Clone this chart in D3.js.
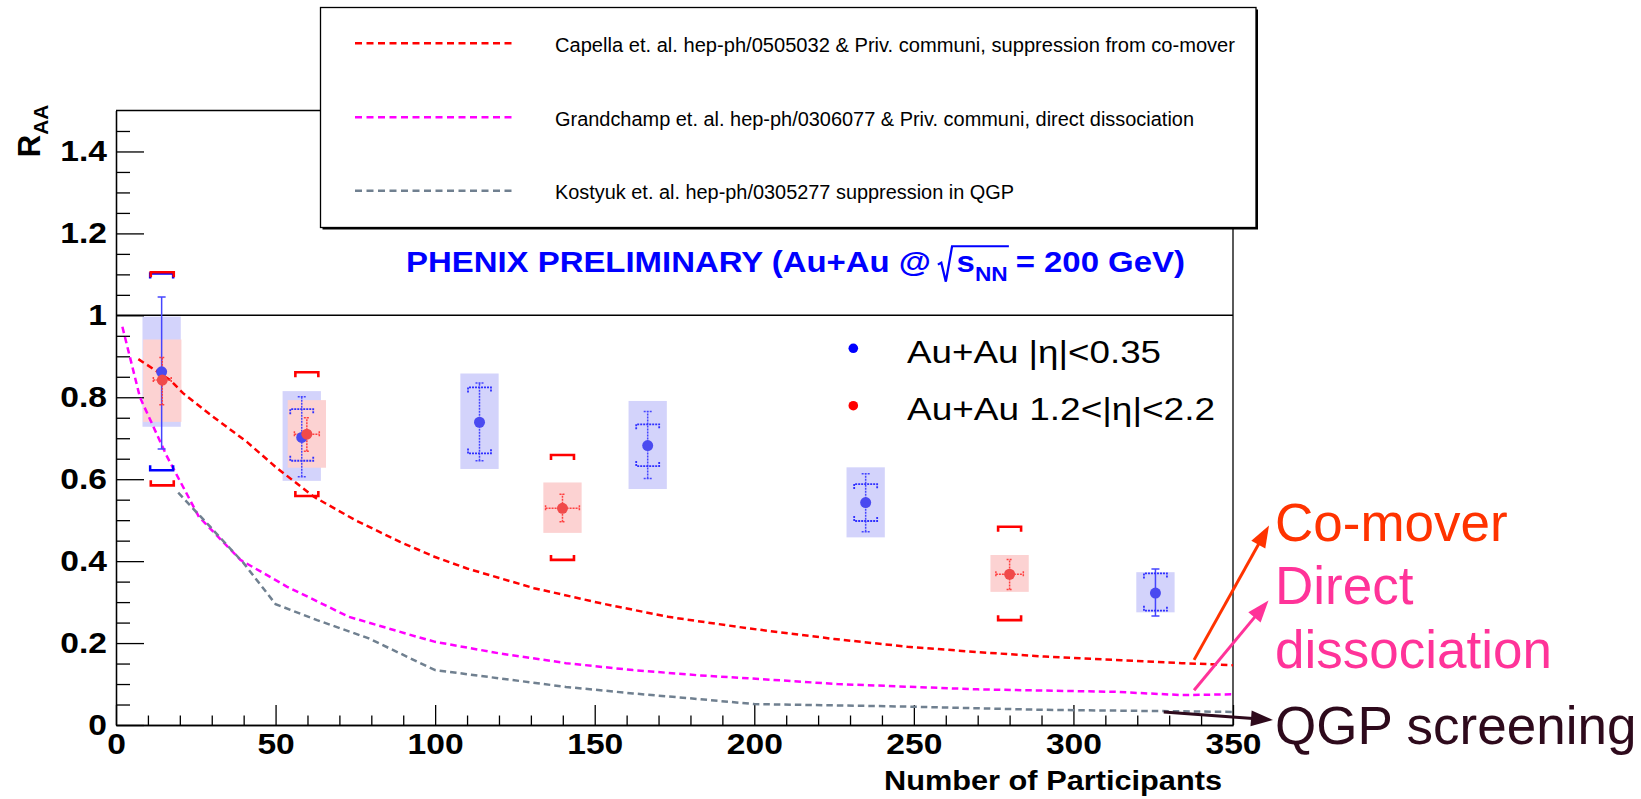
<!DOCTYPE html>
<html><head><meta charset="utf-8">
<script src="https://cdn.jsdelivr.net/npm/d3@7"></script>
<style>
html,body{margin:0;padding:0;background:#fff;}
svg{display:block;font-family:"Liberation Sans",Arial,Helvetica,sans-serif;}
</style></head><body>
<svg id="chart" width="1641" height="799"></svg>
<script>
// ---------------- DATA ----------------
const xTickValues = [0, 50, 100, 150, 200, 250, 300, 350];
const xTickLabels = ["0", "50", "100", "150", "200", "250", "300", "350"];
const yTickValues = [0, 0.2, 0.4, 0.6, 0.8, 1, 1.2, 1.4];
const yTickLabels = ["0", "0.2", "0.4", "0.6", "0.8", "1", "1.2", "1.4"];

// Au+Au |eta|<0.35
const midNpart  = [14.3, 58.2, 113.9, 166.6, 234.9, 325.7];
const midRaa    = [0.862, 0.702, 0.739, 0.682, 0.543, 0.322];
const midStatLo = [0.674, 0.606, 0.645, 0.602, 0.472, 0.266];
const midStatHi = [1.045, 0.801, 0.835, 0.765, 0.613, 0.381];
const midSysLo  = [0.622, 0.645, 0.663, 0.632, 0.498, 0.279];
const midSysHi  = [1.102, 0.771, 0.824, 0.734, 0.588, 0.370];
const midBoxLo  = [0.728, 0.596, 0.625, 0.576, 0.458, 0.275];
const midBoxHi  = [0.997, 0.815, 0.858, 0.791, 0.629, 0.373];

// Au+Au 1.2<|eta|<2.2
const fwdNpart    = [14.5, 59.8, 139.9, 280.0];
const fwdNpartErr = [2.8, 3.9, 5.3, 4.3];
const fwdRaa      = [0.842, 0.710, 0.529, 0.368];
const fwdStatLo   = [0.782, 0.668, 0.496, 0.331];
const fwdStatHi   = [0.897, 0.750, 0.563, 0.404];
const fwdSysLo    = [0.585, 0.559, 0.403, 0.256];
const fwdSysHi    = [1.105, 0.861, 0.659, 0.484];
const fwdBoxLo    = [0.740, 0.628, 0.469, 0.325];
const fwdBoxHi    = [0.941, 0.793, 0.592, 0.415];

// Theory curves
const capellaNpart = [7, 17, 21, 30, 41, 50, 62, 75, 89, 100, 110, 131, 152, 173, 198, 225, 248, 270, 291, 315, 334, 350];
const capellaRaa   = [0.893, 0.842, 0.81, 0.755, 0.691, 0.63, 0.557, 0.50, 0.447, 0.41, 0.382, 0.334, 0.297, 0.264, 0.236, 0.21, 0.191, 0.178, 0.167, 0.158, 0.151, 0.146];
const grandNpart = [2, 7.5, 16, 26, 39, 53.5, 73, 94, 100, 120, 141, 162, 183, 198, 226, 270, 313, 334, 350];
const grandRaa   = [0.972, 0.80, 0.655, 0.508, 0.403, 0.338, 0.264, 0.216, 0.203, 0.175, 0.151, 0.134, 0.121, 0.114, 0.100, 0.087, 0.081, 0.073, 0.075];
const kostNpart = [19.5, 29.5, 40, 50, 63, 79, 100, 120, 141, 162, 183, 200, 248, 291, 350];
const kostRaa   = [0.567, 0.484, 0.395, 0.295, 0.256, 0.212, 0.134, 0.114, 0.093, 0.077, 0.063, 0.051, 0.045, 0.037, 0.032];

const theoryLabels = [
  "Capella et. al. hep-ph/0505032 & Priv. communi,  suppression from co-mover",
  "Grandchamp et. al. hep-ph/0306077 & Priv. communi, direct dissociation",
  "Kostyuk et. al. hep-ph/0305277 suppression in QGP"
];
const seriesLabels = ["Au+Au |\u03b7|<0.35", "Au+Au 1.2<|\u03b7|<2.2"];
const annotLabels = ["Co-mover", "Direct", "dissociation", "QGP screening"];
// arrow tails in data coords (Npart, RAA)
const arrowTailNpart = [337.8, 337.8, 328.3];
const arrowTailRaa   = [0.159, 0.085, 0.032];

// ---------------- LAYOUT ----------------
const svg = d3.select("#chart");
const X0 = 116, X1 = 1233, Y0 = 725, Y1 = 110.5;
const x = d3.scaleLinear().domain([0, 350]).range([X0, X1]);
const y = d3.scaleLinear().domain([0, 1.5]).range([Y0, Y1]);

const cRed = "#ff0000", cMag = "#ff00ff", cGrey = "#708090";
const BOX_HALF = 6, BR_HALF = 3.6;

// boxes
const gBox = svg.append("g");
midNpart.forEach((n, i) => {
  gBox.append("rect").attr("x", x(n - BOX_HALF)).attr("width", x(n + BOX_HALF) - x(n - BOX_HALF))
    .attr("y", y(midBoxHi[i])).attr("height", y(midBoxLo[i]) - y(midBoxHi[i]))
    .attr("fill", "#d3d3fb");
});
fwdNpart.forEach((n, i) => {
  gBox.append("rect").attr("x", x(n - BOX_HALF)).attr("width", x(n + BOX_HALF) - x(n - BOX_HALF))
    .attr("y", y(fwdBoxHi[i])).attr("height", y(fwdBoxLo[i]) - y(fwdBoxHi[i]))
    .attr("fill", "#fcd2d2");
});

// axes
const gx = svg.append("g").attr("transform", `translate(0,${Y0})`);
gx.call(d3.axisBottom(x).tickValues(d3.range(0, 351, 10).filter(v => v % 50 !== 0)).tickSize(-9.5).tickSizeOuter(0).tickFormat(""));
const gxM = svg.append("g").attr("transform", `translate(0,${Y0})`);
gxM.call(d3.axisBottom(x).tickValues(xTickValues).tickSize(-20).tickSizeOuter(0).tickPadding(9)
  .tickFormat((d, i) => xTickLabels[i]));
const gy = svg.append("g").attr("transform", `translate(${X0},0)`);
gy.call(d3.axisLeft(y).tickValues(d3.range(1, 30).filter(k => k % 4 !== 0).map(k => k * 0.05)).tickSize(-14).tickSizeOuter(0).tickFormat(""));
const gyM = svg.append("g").attr("transform", `translate(${X0},0)`);
gyM.call(d3.axisLeft(y).tickValues(yTickValues).tickSize(-28).tickSizeOuter(0).tickPadding(8)
  .tickFormat((d, i) => yTickLabels[i]));
svg.selectAll(".domain, .tick line").attr("stroke", "#000").attr("stroke-width", 1.3);
gxM.selectAll(".tick text").attr("fill", "#000").style("font-size", "30px").style("font-weight", "bold")
  .attr("dy", "0.68em").attr("transform", "scale(1.12,1)");
gyM.selectAll(".tick text").attr("fill", "#000").style("font-size", "30px").style("font-weight", "bold")
  .attr("dy", "0.3em").attr("transform", "scale(1.12,1)");

// frame top/right and y=1 line
svg.append("line").attr("x1", X0).attr("x2", X1).attr("y1", Y1).attr("y2", Y1).attr("stroke", "#000").attr("stroke-width", 1.3);
svg.append("line").attr("x1", X1).attr("x2", X1).attr("y1", Y1).attr("y2", Y0).attr("stroke", "#000").attr("stroke-width", 1.3);
svg.append("line").attr("x1", X0).attr("x2", X1).attr("y1", y(1)).attr("y2", y(1)).attr("stroke", "#000").attr("stroke-width", 1.5);

// theory curves
const line = d3.line().x(d => x(d[0])).y(d => y(d[1]));
const curves = [
  [d3.zip(capellaNpart, capellaRaa), cRed],
  [d3.zip(grandNpart, grandRaa), cMag],
  [d3.zip(kostNpart, kostRaa), cGrey]
];
curves.forEach(([pts, col]) => {
  svg.append("path").attr("d", line(pts)).attr("fill", "none").attr("stroke", col)
    .attr("stroke-width", 2.5).attr("stroke-dasharray", "6.5,4");
});

// brackets helper
function bracket(g, n, lo, hi, col, w, dash) {
  const xl = x(n - BR_HALF), xr = x(n + BR_HALF), e = 5;
  const yl = y(lo), yh = y(hi);
  g.append("path")
    .attr("d", `M${xl},${yh + e}V${yh}H${xr}V${yh + e}M${xl},${yl - e}V${yl}H${xr}V${yl - e}`)
    .attr("fill", "none").attr("stroke", col).attr("stroke-width", w)
    .attr("stroke-dasharray", dash || null);
}

// mid-rapidity (blue) errors
const gMid = svg.append("g");
midNpart.forEach((n, i) => {
  const cx = x(n);
  const dotted = (i > 0 && i < 5);
  gMid.append("path")
    .attr("d", `M${cx},${y(midStatLo[i])}V${y(midStatHi[i])}M${cx - 4},${y(midStatLo[i])}H${cx + 4}M${cx - 4},${y(midStatHi[i])}H${cx + 4}`)
    .attr("stroke", "#4545ff").attr("stroke-width", 1.5).attr("fill", "none")
    .attr("stroke-dasharray", dotted ? "2,1" : null);
  if (i === 0) bracket(gMid, n, midSysLo[i], midSysHi[i], "#0000ff", 2.5);
  else bracket(gMid, n, midSysLo[i], midSysHi[i], "#3030ff", 1.8, "2,1");
});

// forward (red) errors
const gFwd = svg.append("g");
fwdNpart.forEach((n, i) => {
  const cx = x(n), cy = y(fwdRaa[i]);
  const xl = x(n - fwdNpartErr[i]), xr = x(n + fwdNpartErr[i]);
  gFwd.append("path")
    .attr("d", `M${cx},${y(fwdStatLo[i])}V${y(fwdStatHi[i])}M${cx - 3},${y(fwdStatLo[i])}H${cx + 3}M${cx - 3},${y(fwdStatHi[i])}H${cx + 3}` +
      `M${xl},${cy}H${xr}M${xl},${cy - 3}V${cy + 3}M${xr},${cy - 3}V${cy + 3}`)
    .attr("stroke", "#ff4040").attr("stroke-width", 1.5).attr("fill", "none").attr("stroke-dasharray", "2,1");
  bracket(gFwd, n, fwdSysLo[i], fwdSysHi[i], "#ff0000", 2.6);
});

// markers
svg.append("g").selectAll("circle").data(d3.zip(midNpart, midRaa)).join("circle")
  .attr("cx", d => x(d[0])).attr("cy", d => y(d[1])).attr("r", 5.5).attr("fill", "#4a4af0");
svg.append("g").selectAll("circle").data(d3.zip(fwdNpart, fwdRaa)).join("circle")
  .attr("cx", d => x(d[0])).attr("cy", d => y(d[1])).attr("r", 5.5).attr("fill", "#f04a4a");

// theory legend box
svg.append("rect").attr("x", 322.5).attr("y", 9.5).attr("width", 935.5).attr("height", 220).attr("fill", "#000");
svg.append("rect").attr("x", 320.5).attr("y", 7.5).attr("width", 935.5).attr("height", 220)
  .attr("fill", "#fff").attr("stroke", "#000").attr("stroke-width", 1.3);
const legY = [43.3, 117.3, 190.7];
const legW = [680, 639, 459];
[cRed, cMag, cGrey].forEach((col, i) => {
  svg.append("line").attr("x1", 355).attr("x2", 515).attr("y1", legY[i]).attr("y2", legY[i])
    .attr("stroke", col).attr("stroke-width", 2.5).attr("stroke-dasharray", "7,4.5");
  svg.append("text").attr("x", 555).attr("y", legY[i] + 8.3).style("font-size", "20px")
    .attr("textLength", legW[i]).attr("lengthAdjust", "spacingAndGlyphs").text(theoryLabels[i]);
});

// title
const tg = svg.append("g").attr("fill", "#0000ff").style("font-weight", "bold").style("font-size", "29px");
const tX = 406, tB = 271.7;
let cur = tX;
const p1 = tg.append("text").attr("x", cur).attr("y", tB).text("PHENIX PRELIMINARY (Au+Au @");
cur += p1.node().getComputedTextLength() + 6;
const radX = cur;
cur += 16.5;
const p2 = tg.append("text").attr("x", cur).attr("y", tB).text("s");
cur += p2.node().getComputedTextLength();
const p3 = tg.append("text").attr("x", cur).attr("y", tB + 9).style("font-size", "20px").text("NN");
cur += p3.node().getComputedTextLength();
const overEnd = cur + 1;
cur += 7;
const p4 = tg.append("text").attr("x", cur).attr("y", tB).text("= 200 GeV)");
cur += p4.node().getComputedTextLength();
tg.append("path").attr("d", `M${radX},${tB - 7}L${radX + 3},${tB - 9}L${radX + 7},${tB + 10}L${radX + 12.5},${tB - 25.5}H${overEnd}`)
  .attr("fill", "none").attr("stroke", "#0000ff").attr("stroke-width", 2);
const tsx = (1185 - tX) / (cur - tX);
tg.attr("transform", `translate(${tX},0) scale(${tsx},1) translate(${-tX},0)`);

// series legend
const sLegY = [348.3, 405.7];
const sLegW = [254, 308];
["#0000ff", "#ff0000"].forEach((col, i) => {
  svg.append("circle").attr("cx", 853.3).attr("cy", sLegY[i]).attr("r", 4.8).attr("fill", col);
  svg.append("text").attr("x", 907).attr("y", sLegY[i] + 14.4).style("font-size", "32px")
    .attr("textLength", sLegW[i]).attr("lengthAdjust", "spacingAndGlyphs").text(seriesLabels[i]);
});

// axis titles
const yt = svg.append("text").attr("transform", `translate(40,${Y1 - 6}) rotate(-90)`)
  .attr("text-anchor", "end").style("font-weight", "bold").style("font-size", "31px");
yt.append("tspan").text("R");
yt.append("tspan").attr("dy", 8).style("font-size", "21px").text("AA");
svg.append("text").attr("x", 884).attr("y", 790).style("font-weight", "bold").style("font-size", "27px")
  .attr("textLength", 338).attr("lengthAdjust", "spacingAndGlyphs").text("Number of Participants");

// annotations
const annCol = ["#ff3300", "#ff3399", "#ff3399", "#2e0a1c"];
const annY = [540.7, 604.3, 668.3, 744];
annotLabels.forEach((t, i) => {
  svg.append("text").attr("x", 1275).attr("y", annY[i]).attr("fill", annCol[i]).style("font-size", "53px").text(t);
});
const arrowHeads = [[1269, 525.5], [1268.5, 600.5], [1273, 720]];
const arrowCols = ["#ff3300", "#ff3399", "#2e0a1c"];
arrowHeads.forEach((h, i) => {
  const tx = x(arrowTailNpart[i]), ty = y(arrowTailRaa[i]);
  const dx = h[0] - tx, dy = h[1] - ty, L = Math.hypot(dx, dy);
  const ux = dx / L, uy = dy / L, hl = 22, hw = 8;
  const bx = h[0] - ux * hl, by = h[1] - uy * hl;
  svg.append("line").attr("x1", tx).attr("y1", ty).attr("x2", bx + ux * 2).attr("y2", by + uy * 2)
    .attr("stroke", arrowCols[i]).attr("stroke-width", 3);
  svg.append("path").attr("d", `M${h[0]},${h[1]}L${bx - uy * hw},${by + ux * hw}L${bx + uy * hw},${by - ux * hw}Z`)
    .attr("fill", arrowCols[i]);
});
</script>
</body></html>
